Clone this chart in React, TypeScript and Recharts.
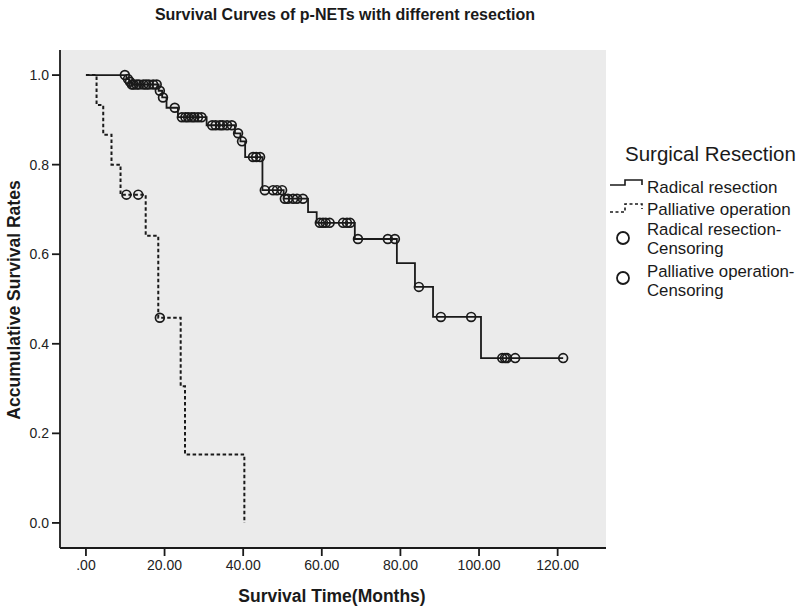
import { ComposedChart, Line, Scatter, XAxis, YAxis, CartesianGrid } from "recharts";

// Kaplan-Meier steps (months, cumulative survival)
const radicalTime = [0, 10.3, 11.0, 11.5, 18.5, 19.4, 20.5, 23.4, 30.7, 37.9, 39.3, 40.5, 44.9, 50.3, 56.5, 58.7, 68.4, 79.1, 83.7, 88.3, 100.5, 121.4];
const radicalSurv = [1.0, 0.991, 0.985, 0.979, 0.965, 0.95, 0.927, 0.906, 0.888, 0.87, 0.852, 0.817, 0.743, 0.724, 0.694, 0.67, 0.634, 0.58, 0.527, 0.46, 0.368, 0.368];

const radicalCensorTime = [9.9, 10.7, 11.2, 11.7, 12.1, 12.9, 13.5, 14.6, 15.3, 16.0, 17.1, 18.0, 18.8, 19.6, 22.6, 24.4, 25.3, 26.0, 26.9, 27.6, 28.5, 29.4, 32.1, 33.0, 34.1, 34.8, 35.9, 37.1, 38.7, 39.7, 42.5, 43.3, 44.3, 45.5, 47.6, 48.6, 49.9, 50.6, 51.4, 52.7, 53.7, 55.2, 59.5, 60.3, 61.0, 62.0, 65.4, 66.4, 67.2, 69.2, 76.8, 78.6, 84.7, 90.3, 98.0, 105.9, 106.6, 107.1, 109.2, 121.4];
const radicalCensorSurv = [1.0, 0.991, 0.985, 0.979, 0.979, 0.979, 0.979, 0.979, 0.979, 0.979, 0.979, 0.979, 0.965, 0.95, 0.927, 0.906, 0.906, 0.906, 0.906, 0.906, 0.906, 0.906, 0.888, 0.888, 0.888, 0.888, 0.888, 0.888, 0.87, 0.852, 0.817, 0.817, 0.817, 0.743, 0.743, 0.743, 0.743, 0.724, 0.724, 0.724, 0.724, 0.724, 0.67, 0.67, 0.67, 0.67, 0.67, 0.67, 0.67, 0.634, 0.634, 0.634, 0.527, 0.46, 0.46, 0.368, 0.368, 0.368, 0.368, 0.368];

const palliativeTime = [0, 2.7, 4.4, 6.5, 8.8, 15.2, 18.4, 24.1, 25.2, 40.3];
const palliativeSurv = [1.0, 0.933, 0.867, 0.8, 0.733, 0.641, 0.458, 0.305, 0.153, 0];

const palliativeCensorTime = [10.3, 13.3, 18.8];
const palliativeCensorSurv = [0.733, 0.733, 0.458];

const xTicks = [0, 20, 40, 60, 80, 100, 120];
const yTicks = [0, 0.2, 0.4, 0.6, 0.8, 1.0];

const zip = (t: number[], s: number[]) => t.map((time, i) => ({ time, surv: s[i] }));

const radicalData = zip(radicalTime, radicalSurv);
const palliativeData = zip(palliativeTime, palliativeSurv);
const radicalCensor = zip(radicalCensorTime, radicalCensorSurv);
const palliativeCensor = zip(palliativeCensorTime, palliativeCensorSurv);

const X_DOMAIN: [number, number] = [-6.6, 132.3];
const Y_DOMAIN: [number, number] = [-0.056, 1.056];
const FONT = '"Liberation Sans", Arial, sans-serif';
const INK = "#1a1a1a";

const CensorMark = (props: any) => (
  <circle cx={props.cx} cy={props.cy} r={4.4} fill="none" stroke={INK} strokeWidth={1.7} />
);

export default function App() {
  return (
    <div style={{ position: "absolute", left: 0, top: 0, width: 800, height: 609, background: "#fff", fontFamily: FONT }}>
      <ComposedChart width={800} height={609} margin={{ top: 50, right: 194, bottom: 0, left: 0 }}>
        <CartesianGrid horizontal={false} vertical={false} fill="#ebebeb" />
        <XAxis
          dataKey="time"
          type="number"
          domain={X_DOMAIN}
          ticks={xTicks}
          allowDataOverflow
          height={61}
          tickSize={8}
          tickMargin={4}
          stroke={INK}
          axisLine={{ stroke: INK, strokeWidth: 1.8 }}
          tickLine={{ stroke: INK, strokeWidth: 1.8 }}
          tick={{ fill: "#222", fontSize: 14, fontFamily: FONT }}
          tickFormatter={(v: number) => (v === 0 ? ".00" : v.toFixed(2))}
        />
        <XAxis xAxisId="top" orientation="top" type="number" domain={X_DOMAIN} height={0} tick={false} tickLine={false} axisLine={{ stroke: INK, strokeWidth: 1.8 }} />
        <YAxis
          dataKey="surv"
          type="number"
          domain={Y_DOMAIN}
          ticks={yTicks}
          allowDataOverflow
          width={60}
          tickSize={8}
          tickMargin={3}
          axisLine={{ stroke: INK, strokeWidth: 1.8 }}
          tickLine={{ stroke: INK, strokeWidth: 1.8 }}
          tick={{ fill: "#222", fontSize: 14, fontFamily: FONT }}
          tickFormatter={(v: number) => v.toFixed(1)}
        />
        <YAxis yAxisId="right" orientation="right" type="number" domain={Y_DOMAIN} width={0} tick={false} tickLine={false} axisLine={{ stroke: INK, strokeWidth: 1.8 }} />
        <Line
          data={palliativeData}
          dataKey="surv"
          type="stepAfter"
          stroke={INK}
          strokeWidth={2}
          strokeDasharray="3.5 2.5"
          dot={false}
          activeDot={false}
          isAnimationActive={false}
        />
        <Line
          data={radicalData}
          dataKey="surv"
          type="stepAfter"
          stroke={INK}
          strokeWidth={1.8}
          dot={false}
          activeDot={false}
          isAnimationActive={false}
        />
        <Scatter data={radicalCensor} dataKey="surv" shape={CensorMark} isAnimationActive={false} />
        <Scatter data={palliativeCensor} dataKey="surv" shape={CensorMark} isAnimationActive={false} />
      </ComposedChart>

      <svg width={800} height={609} style={{ position: "absolute", left: 0, top: 0, pointerEvents: "none" }}>
        <text x={345} y={14} textAnchor="middle" dominantBaseline="central" fontSize={16} fontWeight="bold" fill={INK} fontFamily={FONT}>
          Survival Curves of p-NETs with different resection
        </text>
        <text x={332} y={596} textAnchor="middle" dominantBaseline="central" fontSize={17.5} fontWeight="bold" fill={INK} fontFamily={FONT}>
          Survival Time(Months)
        </text>
        <text x={14} y={300} transform="rotate(-90, 14, 300)" textAnchor="middle" dominantBaseline="central" fontSize={17.5} fontWeight="bold" fill={INK} fontFamily={FONT}>
          Accumulative Survival Rates
        </text>

        {/* legend */}
        <g fontFamily={FONT} fill={INK}>
          <text x={625} y={153} dominantBaseline="central" fontSize={20.5}>Surgical Resection</text>
          <path d="M610,185 H625 V180 H642 V185" fill="none" stroke={INK} strokeWidth={1.6} />
          <text x={647} y={187} dominantBaseline="central" fontSize={17}>Radical resection</text>
          <path d="M610,212 H625 V204 H642 V209" fill="none" stroke={INK} strokeWidth={1.6} strokeDasharray="3 2.5" />
          <text x={647} y={209} dominantBaseline="central" fontSize={17}>Palliative operation</text>
          <circle cx={623} cy={238} r={6} fill="none" stroke={INK} strokeWidth={1.8} />
          <text x={647} y={229.5} dominantBaseline="central" fontSize={16.8}>Radical resection-</text>
          <text x={647} y={248} dominantBaseline="central" fontSize={16.8}>Censoring</text>
          <circle cx={623} cy={278} r={6} fill="none" stroke={INK} strokeWidth={1.8} />
          <text x={647} y={271.5} dominantBaseline="central" fontSize={16.8}>Palliative operation-</text>
          <text x={647} y={290} dominantBaseline="central" fontSize={16.8}>Censoring</text>
        </g>
      </svg>
    </div>
  );
}
